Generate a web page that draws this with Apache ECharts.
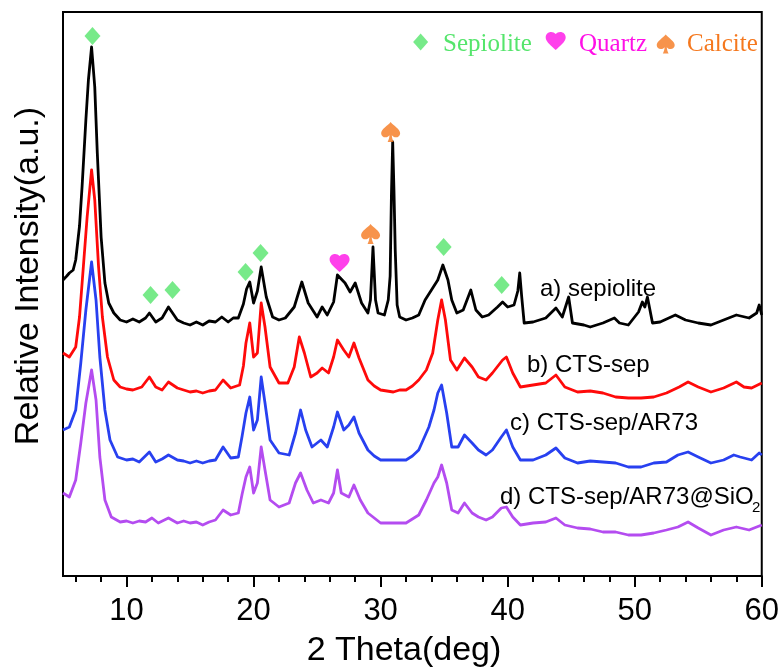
<!DOCTYPE html>
<html>
<head>
<meta charset="utf-8">
<script src="https://cdn.jsdelivr.net/npm/echarts@6/dist/echarts.min.js"></script>
<style>html,body{margin:0;padding:0;background:#fff}#c{width:782px;height:670px}</style>
</head>
<body>
<div id="c"></div>
<script>
// ---- data (x = 2θ in degrees, y = relative intensity, offset-stacked, arbitrary units) ----
var xTickLabels = [10, 20, 30, 40, 50, 60];
var xMinorTicks = [6, 8, 12, 14, 16, 18, 22, 24, 26, 28, 32, 34, 36, 38, 42, 44, 46, 48, 52, 54, 56, 58];

var sepiolite = [[5,296],[5.3,300],[5.5,303],[5.8,306],[6,316],[6.3,350],[6.5,389],[6.8,456],[7.0,496],[7.25,529],[7.5,489],[7.7,423],[8.0,339],[8.3,293],[8.6,273],[9,263],[9.5,256],[10,254],[10.5,257],[11,254],[11.5,258],[11.8,263],[12.3,254],[12.8,258],[13.3,269],[14,256],[14.5,253],[15,251],[15.5,254],[16,251],[16.5,255],[17,254],[17.5,259],[18,254],[18.4,258],[18.8,258],[19.2,272],[19.45,287],[19.7,294],[20.0,273],[20.3,285],[20.6,309],[21.0,279],[21.5,259],[22,256],[22.5,258],[23.2,269],[23.8,294],[24.3,273],[25,259],[25.4,269],[25.8,261],[26.3,274],[26.6,301],[27.2,293],[27.6,284],[28,293],[28.5,273],[29.0,263],[29.2,276],[29.4,329],[29.6,276],[29.8,263],[30.3,261],[30.6,276],[30.75,300],[30.85,380],[30.95,434],[31.05,386],[31.15,326],[31.3,271],[31.5,259],[32,256],[32.5,258],[33,261],[33.5,276],[34,286],[34.5,296],[34.9,311],[35.3,296],[35.6,276],[36,263],[36.5,266],[37.1,286],[37.5,266],[38,259],[38.5,261],[39.2,269],[39.6,274],[40,269],[40.5,271],[40.8,285],[40.95,303],[41.1,280],[41.3,253],[42,254],[42.5,256],[43,258],[43.8,268],[44.3,259],[44.8,279],[45.1,253],[46,251],[46.5,249],[47.5,253],[48.4,258],[48.8,253],[49.5,251],[50.3,264],[50.6,274],[50.8,269],[51.0,279],[51.4,253],[52,254],[53.2,261],[54,256],[55,253],[56,251],[57,256],[58,261],[59,258],[59.6,263],[59.8,271],[60,261]];

var ctsSep = [[5,223],[5.5,219],[6,229],[6.3,259],[6.6,309],[6.9,359],[7.25,406],[7.5,376],[7.8,309],[8.1,259],[8.5,219],[9,196],[9.5,189],[10,187],[10.5,186],[11.2,189],[11.8,199],[12.3,189],[12.8,186],[13.3,194],[14,188],[14.5,186],[15,184],[15.5,185],[16,183],[16.5,185],[17,186],[17.6,196],[18.2,188],[18.9,191],[19.2,210],[19.4,233],[19.7,253],[20.0,219],[20.3,223],[20.6,273],[20.9,249],[21.3,209],[22,193],[22.7,193],[23.2,209],[23.6,239],[24.0,223],[24.5,199],[25,203],[25.4,208],[25.9,203],[26.3,219],[26.6,236],[27.1,226],[27.5,219],[27.9,233],[28.3,218],[29,196],[29.5,190],[30,186],[30.5,185],[31,184],[31.5,186],[32,186],[32.5,190],[33,196],[33.6,206],[34.1,223],[34.5,256],[34.8,276],[35.1,256],[35.5,216],[36,206],[36.6,218],[37.2,209],[37.7,199],[38.3,196],[38.8,203],[39.6,216],[39.9,219],[40.4,203],[41,189],[42,191],[43,193],[43.8,201],[44.5,189],[45.5,184],[46.5,185],[47.5,183],[48.5,179],[49.5,178],[50.5,178],[51.5,179],[52.5,183],[53.5,189],[54.2,194],[55,189],[56,184],[57,188],[58,194],[58.6,189],[59.2,188],[60,193]];

var ctsSepAR73 = [[5,146],[5.5,149],[6,166],[6.4,213],[6.8,266],[7.25,314],[7.6,276],[7.9,219],[8.3,166],[8.7,136],[9.3,119],[10,116],[10.5,117],[11,114],[11.8,124],[12.3,114],[12.8,117],[13.3,121],[14,116],[14.5,115],[15,113],[15.5,115],[16,113],[16.5,115],[17,116],[17.6,129],[18.2,118],[18.8,119],[19.1,140],[19.4,163],[19.7,179],[20.0,146],[20.3,156],[20.6,199],[20.9,173],[21.3,136],[22,123],[22.8,121],[23.3,143],[23.7,166],[24.1,146],[24.6,129],[25.3,136],[25.8,129],[26.3,149],[26.6,164],[27.1,146],[27.5,151],[27.9,159],[28.3,143],[29,126],[29.5,120],[30,116],[31,116],[32,116],[32.5,120],[33,126],[33.8,149],[34.2,166],[34.5,183],[34.8,191],[35.2,163],[35.6,129],[36.1,129],[36.6,141],[37.2,133],[37.7,126],[38.3,121],[38.8,126],[39.5,139],[39.9,146],[40.4,129],[41,116],[42,116],[43,121],[43.8,128],[44.5,118],[45.5,113],[46.5,115],[47.5,114],[48.5,113],[49.5,109],[50.5,109],[51.5,113],[52.5,114],[53.4,121],[54.2,124],[55,119],[56,113],[57,116],[57.8,121],[58.3,119],[59.2,116],[59.8,123],[60,121]];

var ctsSepAR73SiO2 = [[5,83],[5.5,79],[6,96],[6.4,133],[6.8,173],[7.25,206],[7.6,176],[7.9,119],[8.3,76],[8.8,59],[9.5,54],[10,55],[10.5,53],[11,55],[11.5,54],[12,58],[12.5,53],[13.3,58],[14,53],[14.5,55],[15,53],[15.5,54],[16,51],[16.5,54],[17,56],[17.6,66],[18.2,61],[18.8,63],[19.1,82],[19.4,99],[19.7,109],[20.0,83],[20.3,93],[20.6,129],[20.9,106],[21.3,76],[22,69],[22.8,73],[23.3,93],[23.7,103],[24.2,86],[24.7,73],[25.3,76],[25.9,73],[26.3,83],[26.6,106],[26.9,83],[27.5,79],[27.9,91],[28.4,76],[29,63],[29.5,58],[30,53],[31,53],[32,53],[33,61],[33.6,76],[34.2,93],[34.5,99],[34.8,111],[35.2,93],[35.6,66],[36.1,63],[36.6,73],[37.2,63],[37.7,59],[38.3,56],[38.8,59],[39.5,68],[39.9,69],[40.4,59],[41,51],[42,53],[43,54],[43.8,58],[44.5,51],[45.5,48],[46.5,47],[47.5,44],[48.5,44],[49.5,41],[50.5,41],[51.5,43],[52.5,46],[53.4,49],[54.2,54],[55,48],[56,41],[57,46],[58,49],[59,46],[60,51]];

// phase markers [x, y]
var sepioliteMarks = [[7.32,540],[11.89,281],[13.62,286],[19.37,304],[20.55,323],[34.96,329],[39.53,291]];
var quartzMarks = [[26.77,313]];
var calciteMarks = [[29.21,342],[30.79,444]];
// phase key symbols (placed in the top-right of the plot)
var keySepiolite = [[33.15,534]];
var keyQuartz = [[43.78,535]];
var keyCalcite = [[52.44,532]];

var seriesNames = ['a) sepiolite', 'b) CTS-sep', 'c) CTS-sep/AR73', 'd) CTS-sep/AR73@SiO2'];
var seriesColors = ['#000000', '#ff0a0a', '#2840f0', '#b44cf0'];

var HEART = 'M12 22L10.4 20.5C4.8 15.5 1 12.1 1 7.9 1 4.5 3.7 2 7 2c1.9 0 3.7.9 5 2.3C13.3 2.9 15.1 2 17 2 20.3 2 23 4.5 23 7.9c0 4.2-3.8 7.6-9.4 12.6L12 22z';
var SPADE = 'M12 1C9 5 2 8.5 2 13C2 15.8 4.2 17.5 6.5 17.5C8.3 17.5 9.8 16.6 10.8 15.3C10.6 18 10 20.2 8.8 22.5L15.2 22.5C14 20.2 13.4 18 13.2 15.3C14.2 16.6 15.7 17.5 17.5 17.5C19.8 17.5 22 15.8 22 13C22 8.5 15 5 12 1Z';
var DIAMOND = 'M12 0L24 12L12 24L0 12Z';

var GREEN = '#55e56c', MAGENTA = '#ff10e6', ORANGE = '#f5781e';

var chart = echarts.init(document.getElementById('c'), null, {renderer: 'canvas'});
var datasets = [sepiolite, ctsSep, ctsSepAR73, ctsSepAR73SiO2];
var series = datasets.map(function (d, i) {
  return {
    type: 'line', name: seriesNames[i], data: d, showSymbol: false, symbol: 'none',
    lineStyle: {color: seriesColors[i], width: 2.8, join: 'round'}, itemStyle: {color: seriesColors[i]},
    z: 2 + (3 - i), animation: false, silent: true
  };
});
function marks(data, symbol, size, color) {
  return {type: 'scatter', data: data, symbol: symbol, symbolSize: size, itemStyle: {color: color}, z: 10, animation: false, silent: true};
}
series.push(marks(sepioliteMarks, 'path://' + DIAMOND, [16, 18], GREEN));
series.push(marks(quartzMarks, 'path://' + HEART, [20, 18], MAGENTA));
series.push(marks(calciteMarks, 'path://' + SPADE, [19, 20], ORANGE));
series.push(marks(keySepiolite, 'path://' + DIAMOND, [15, 17], GREEN));
series.push(marks(keyQuartz, 'path://' + HEART, [20, 18], MAGENTA));
series.push(marks(keyCalcite, 'path://' + SPADE, [18, 19], ORANGE));

var labelFont = '"Liberation Sans", Arial, sans-serif';
var serifFont = '"Liberation Serif", "Times New Roman", serif';

var option = {
  animation: false,
  backgroundColor: '#ffffff',
  grid: {left: 63, right: 20, top: 12, bottom: 94, show: true, borderColor: '#000', borderWidth: 2, backgroundColor: 'transparent'},
  xAxis: [
    {type: 'value', min: 5, max: 60, position: 'bottom',
     axisLine: {show: true, onZero: false, lineStyle: {color: '#000', width: 2}},
     axisTick: {show: true, inside: false, length: 11, lineStyle: {color: '#000', width: 2}, customValues: xTickLabels},
     axisLabel: {show: true, margin: 20, color: '#000', fontSize: 31, fontFamily: labelFont, customValues: xTickLabels},
     splitLine: {show: false}},
    {type: 'value', min: 5, max: 60, position: 'bottom', gridIndex: 0,
     axisLine: {show: false, onZero: false},
     axisTick: {show: true, inside: false, length: 6, lineStyle: {color: '#000', width: 2}, customValues: xMinorTicks},
     axisLabel: {show: false},
     splitLine: {show: false}}
  ],
  yAxis: {type: 'value', min: 0, max: 564,
    axisLine: {show: true, lineStyle: {color: '#000', width: 2}},
    axisTick: {show: false}, axisLabel: {show: false}, splitLine: {show: false}},
  series: series,
  graphic: [
    {type: 'text', x: 29, y: 276, rotation: Math.PI / 2,
     style: {text: 'Relative Intensity(a.u.)', font: '34px ' + labelFont, fill: '#000', textAlign: 'center', textVerticalAlign: 'middle'}},
    {type: 'text', x: 404, y: 651,
     style: {text: '2 Theta(deg)', font: '34px ' + labelFont, fill: '#000', textAlign: 'center', textVerticalAlign: 'middle'}},
    {type: 'text', x: 540, y: 289, style: {text: seriesNames[0], font: '24px ' + labelFont, fill: '#000', textVerticalAlign: 'middle'}, z: 20},
    {type: 'text', x: 527, y: 365, style: {text: seriesNames[1], font: '24px ' + labelFont, fill: '#000', textVerticalAlign: 'middle'}, z: 20},
    {type: 'text', x: 510, y: 423, style: {text: seriesNames[2], font: '24px ' + labelFont, fill: '#000', textVerticalAlign: 'middle'}, z: 20},
    {type: 'text', x: 500, y: 497, style: {text: 'd) CTS-sep/AR73@SiO', font: '24px ' + labelFont, fill: '#000', textVerticalAlign: 'middle'}, z: 20},
    {type: 'text', x: 752, y: 508, style: {text: '2', font: '15px ' + labelFont, fill: '#000', textVerticalAlign: 'middle'}, z: 20},
    {type: 'text', x: 443, y: 44, style: {text: 'Sepiolite', font: '25px ' + serifFont, fill: GREEN, textVerticalAlign: 'middle'}, z: 20},
    {type: 'text', x: 579, y: 44, style: {text: 'Quartz', font: '25px ' + serifFont, fill: MAGENTA, textVerticalAlign: 'middle'}, z: 20},
    {type: 'text', x: 687, y: 44, style: {text: 'Calcite', font: '25px ' + serifFont, fill: ORANGE, textVerticalAlign: 'middle'}, z: 20}
  ]
};
chart.setOption(option);
</script>
</body>
</html>
